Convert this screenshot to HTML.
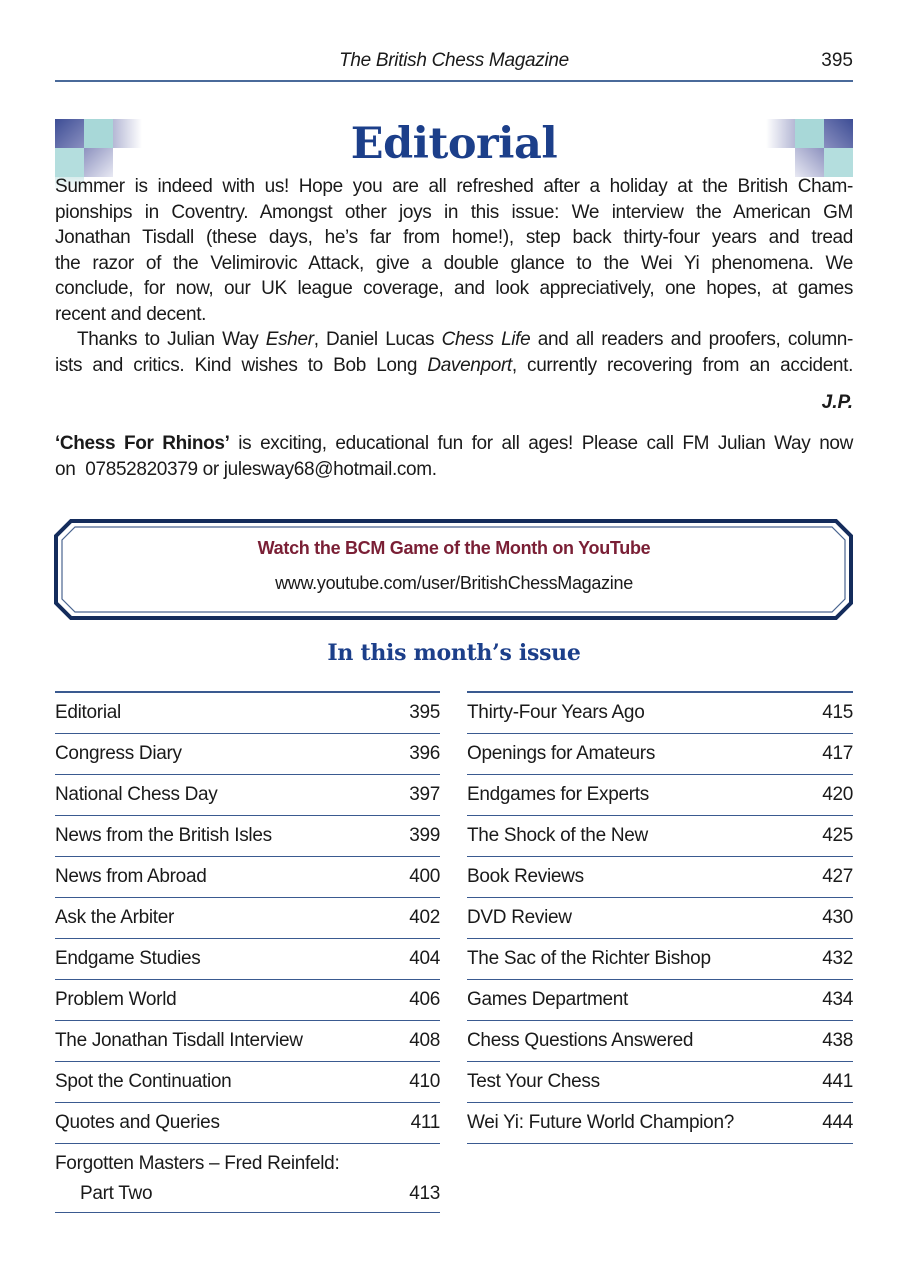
<!DOCTYPE html>
<html><head><meta charset="utf-8"><style>
body{margin:0;width:901px;height:1280px;background:#fff;position:relative;font-family:"Liberation Sans",sans-serif;color:#1a1a1a;overflow:hidden}
.a{position:absolute}
.ln{position:absolute;left:55px;width:798px;font-size:19px;letter-spacing:-0.35px;text-align:justify;text-align-last:justify;white-space:nowrap;line-height:25px}
.ln.l{text-align-last:left}
.sq{position:absolute;width:29px;height:29px}
.row{position:absolute;height:40px;border-bottom:1.5px solid #3a5a90;font-size:19px;letter-spacing:-0.3px;line-height:40px}
.row span{position:absolute;right:0}
</style></head><body>
<div class="a" style="left:0;width:908px;top:50px;text-align:center;font-style:italic;font-size:19px;letter-spacing:-0.3px">The British Chess Magazine</div>
<div class="a" style="right:48px;top:50px;font-size:19px">395</div>
<div class="a" style="left:55px;top:80px;width:798px;height:1.5px;background:#4a6a9a"></div>

<div class="sq" style="left:55px;top:119px;background:linear-gradient(135deg,#3d4d95,#8a90c0)"></div>
<div class="sq" style="left:84px;top:119px;background:#a8d8d8"></div>
<div class="sq" style="left:113px;top:119px;background:linear-gradient(90deg,#b5b8d5,#fff)"></div>
<div class="sq" style="left:55px;top:148px;background:#b4dede"></div>
<div class="sq" style="left:84px;top:148px;background:linear-gradient(135deg,#8d92bf,#e8e9f3)"></div>
<div class="sq" style="left:55px;top:177px;height:14px;background:linear-gradient(#d8ecec,#fff)"></div>

<div class="sq" style="left:824px;top:119px;background:linear-gradient(225deg,#3d4d95,#8a90c0)"></div>
<div class="sq" style="left:795px;top:119px;background:#a8d8d8"></div>
<div class="sq" style="left:766px;top:119px;background:linear-gradient(270deg,#b5b8d5,#fff)"></div>
<div class="sq" style="left:824px;top:148px;background:#b4dede"></div>
<div class="sq" style="left:795px;top:148px;background:linear-gradient(225deg,#8d92bf,#e8e9f3)"></div>

<div class="a" style="left:0;width:908px;top:116px;text-align:center;font-family:'DejaVu Serif',serif;font-weight:bold;font-size:43px;color:#1c3f8a;line-height:56px;letter-spacing:-0.5px">Editorial</div>

<div class="ln" style="top:174px">Summer is indeed with us! Hope you are all refreshed after a holiday at the British Cham-</div>
<div class="ln" style="top:199.5px">pionships in Coventry. Amongst other joys in this issue: We interview the American GM</div>
<div class="ln" style="top:225px">Jonathan Tisdall (these days, he’s far from home!), step back thirty-four years and tread</div>
<div class="ln" style="top:250.5px">the razor of the Velimirovic Attack, give a double glance to the Wei Yi phenomena. We</div>
<div class="ln" style="top:276px">conclude, for now, our UK league coverage, and look appreciatively, one hopes, at games</div>
<div class="ln l" style="top:301.5px">recent and decent.</div>
<div class="ln" style="top:327px;left:77px;width:776px">Thanks to Julian Way <i>Esher</i>, Daniel Lucas <i>Chess Life</i> and all readers and proofers, column-</div>
<div class="ln" style="top:352.5px">ists and critics. Kind wishes to Bob Long <i>Davenport</i>, currently recovering from an accident.</div>
<div class="a" style="right:48px;top:392px;font-size:19px;font-weight:bold;font-style:italic">J.P.</div>
<div class="ln" style="top:431px"><b>‘Chess For Rhinos’</b> is exciting, educational fun for all ages! Please call FM Julian Way now</div>
<div class="ln l" style="top:456.5px">on &nbsp;07852820379 or julesway68@hotmail.com.</div>

<svg class="a" style="left:0;top:0" width="901" height="700">
<polygon points="71,521 836,521 851,536 851,603 836,618 71,618 56,603 56,536" fill="none" stroke="#142c5c" stroke-width="4"/>
<polygon points="75,527 832,527 845,540 845,599 832,612 75,612 62,599 62,540" fill="none" stroke="#4a6590" stroke-width="1.2"/>
</svg>
<div class="a" style="left:0;width:908px;top:538px;text-align:center;font-size:18px;font-weight:bold;color:#7a1f35;letter-spacing:-0.3px">Watch the BCM Game of the Month on YouTube</div>
<div class="a" style="left:0;width:908px;top:573px;text-align:center;font-size:18px;letter-spacing:-0.3px">www.youtube.com/user/BritishChessMagazine</div>

<div class="a" style="left:0;width:908px;top:640px;text-align:center;font-family:'DejaVu Serif',serif;font-weight:bold;font-size:22px;color:#1c3f8a;letter-spacing:-0.3px">In this month’s issue</div>

<div class="a" style="left:55px;top:691px;width:385px;height:1.5px;background:#3a5a90"></div>
<div class="a" style="left:467px;top:691px;width:386px;height:1.5px;background:#3a5a90"></div>

<div class="row" style="left:55px;width:385px;top:692.5px">Editorial<span>395</span></div>
<div class="row" style="left:55px;width:385px;top:733.5px">Congress Diary<span>396</span></div>
<div class="row" style="left:55px;width:385px;top:774.5px">National Chess Day<span>397</span></div>
<div class="row" style="left:55px;width:385px;top:815.5px">News from the British Isles<span>399</span></div>
<div class="row" style="left:55px;width:385px;top:856.5px">News from Abroad<span>400</span></div>
<div class="row" style="left:55px;width:385px;top:897.5px">Ask the Arbiter<span>402</span></div>
<div class="row" style="left:55px;width:385px;top:938.5px">Endgame Studies<span>404</span></div>
<div class="row" style="left:55px;width:385px;top:979.5px">Problem World<span>406</span></div>
<div class="row" style="left:55px;width:385px;top:1020.5px">The Jonathan Tisdall Interview<span>408</span></div>
<div class="row" style="left:55px;width:385px;top:1061.5px">Spot the Continuation<span>410</span></div>
<div class="row" style="left:55px;width:385px;top:1102.5px">Quotes and Queries<span>411</span></div>
<div class="row" style="left:55px;width:385px;top:1143.5px;height:69px;line-height:30px;padding-top:5px;box-sizing:border-box">Forgotten Masters – Fred Reinfeld:<br><span style="position:static;padding-left:25px">Part Two</span><span style="top:35px">413</span></div>

<div class="row" style="left:467px;width:386px;top:692.5px">Thirty-Four Years Ago<span>415</span></div>
<div class="row" style="left:467px;width:386px;top:733.5px">Openings for Amateurs<span>417</span></div>
<div class="row" style="left:467px;width:386px;top:774.5px">Endgames for Experts<span>420</span></div>
<div class="row" style="left:467px;width:386px;top:815.5px">The Shock of the New<span>425</span></div>
<div class="row" style="left:467px;width:386px;top:856.5px">Book Reviews<span>427</span></div>
<div class="row" style="left:467px;width:386px;top:897.5px">DVD Review<span>430</span></div>
<div class="row" style="left:467px;width:386px;top:938.5px">The Sac of the Richter Bishop<span>432</span></div>
<div class="row" style="left:467px;width:386px;top:979.5px">Games Department<span>434</span></div>
<div class="row" style="left:467px;width:386px;top:1020.5px">Chess Questions Answered<span>438</span></div>
<div class="row" style="left:467px;width:386px;top:1061.5px">Test Your Chess<span>441</span></div>
<div class="row" style="left:467px;width:386px;top:1102.5px">Wei Yi: Future World Champion?<span>444</span></div>
</body></html>
